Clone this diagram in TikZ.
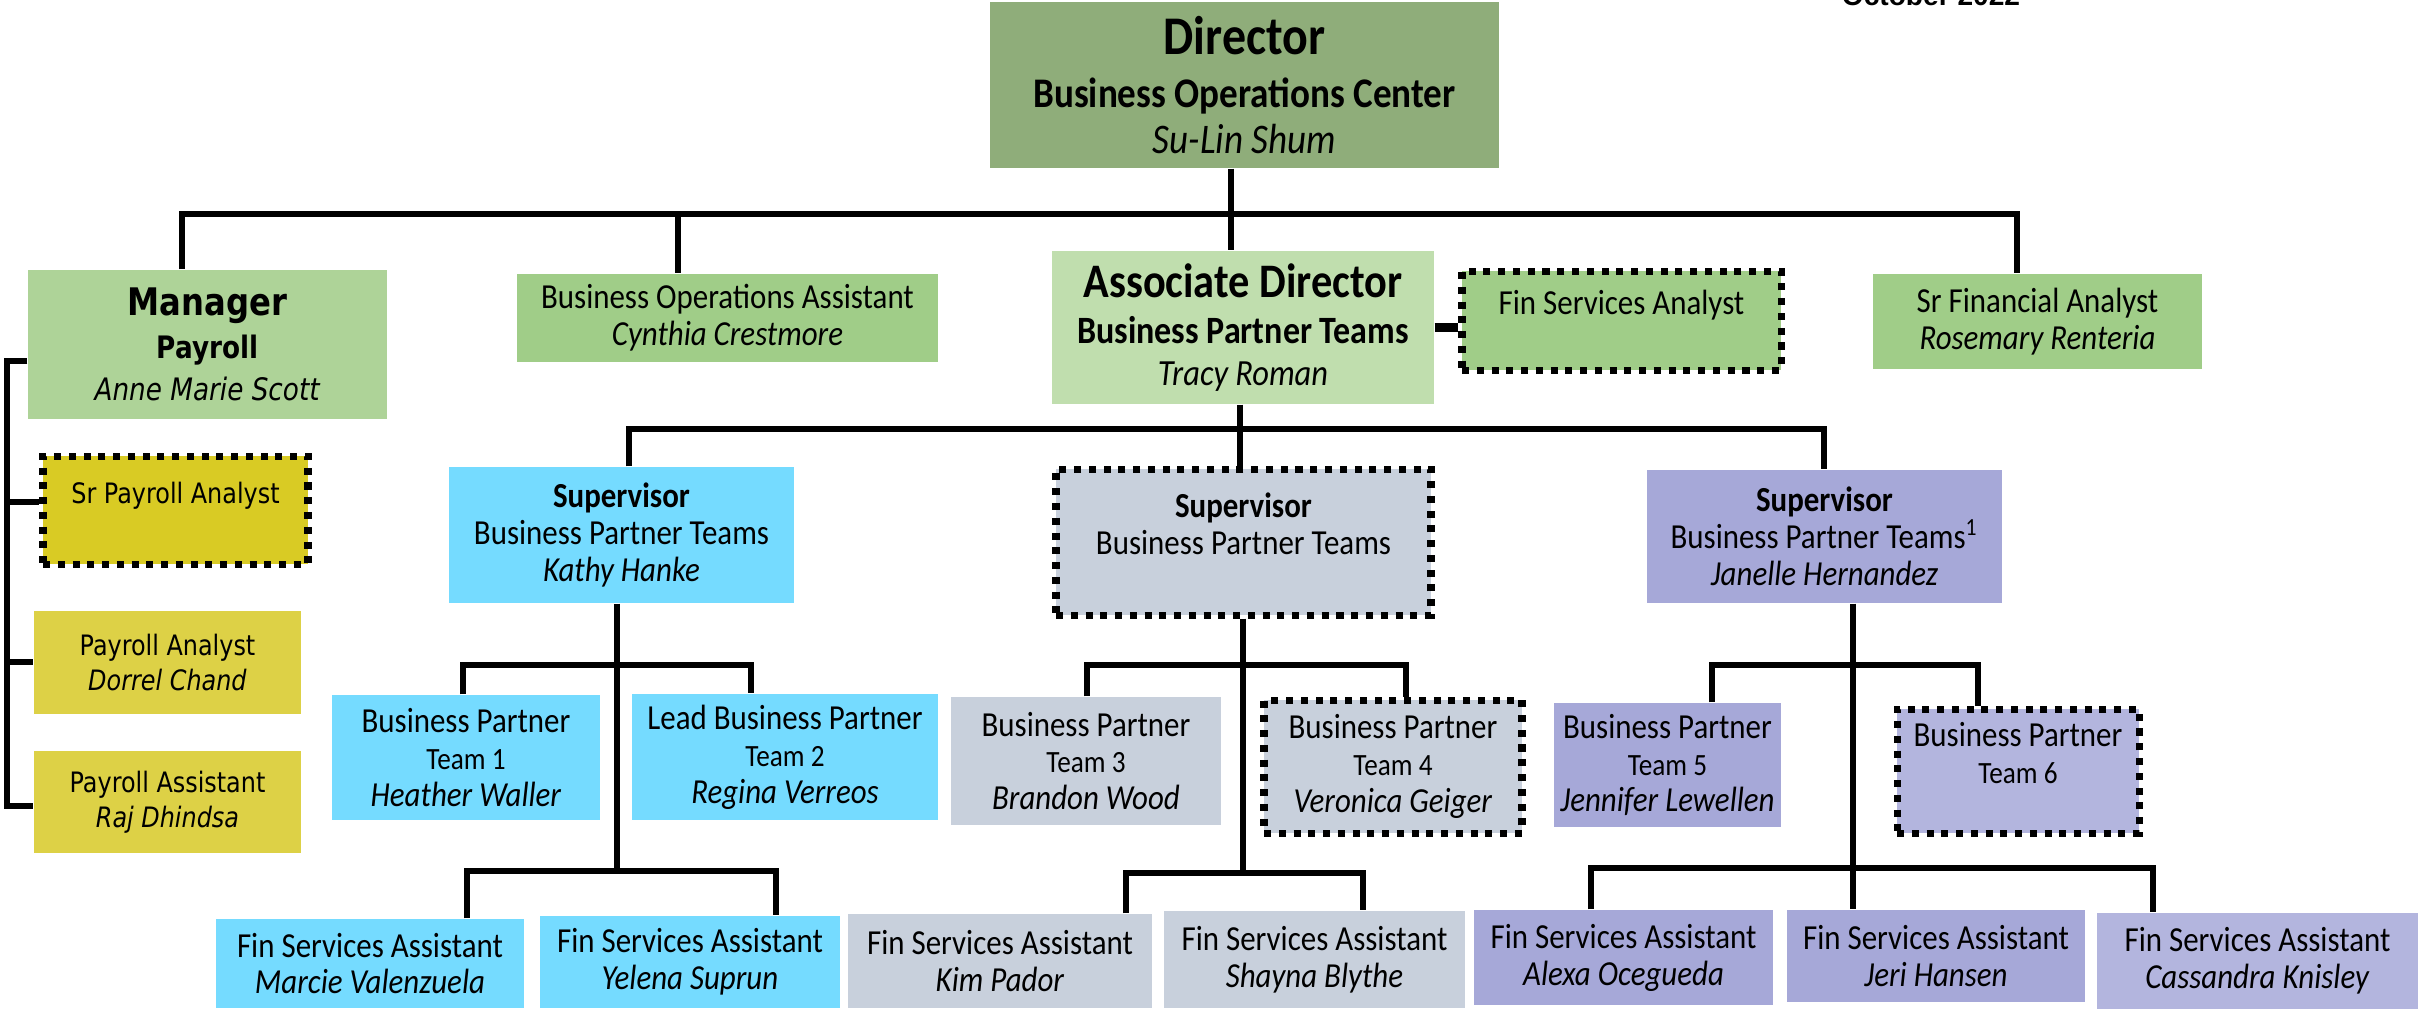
\documentclass[tikz,border=0pt]{standalone}
\usepackage{fontspec}
\setmainfont{Carlito}[FakeStretch=0.88]
\newfontfamily\payfont{DejaVu Sans}[FakeStretch=0.85]
\newfontfamily\datefont{Liberation Sans}

\definecolor{dirgreen}{RGB}{143,173,122}
\definecolor{mgrgreen}{RGB}{174,211,152}
\definecolor{midgreen}{RGB}{160,205,136}
\definecolor{palegreen}{RGB}{192,222,174}
\definecolor{payyellow}{RGB}{221,209,70}
\definecolor{payyellowdk}{RGB}{217,203,36}
\definecolor{bpcyan}{RGB}{117,219,255}
\definecolor{bpgray}{RGB}{200,208,220}
\definecolor{bplav}{RGB}{166,168,216}
\definecolor{bplavlt}{RGB}{179,181,222}

\tikzset{
  orgbox/.style={rectangle,inner sep=0pt,align=center,font=\fontsize{10}{10.5}\selectfont},
  paybox/.style={orgbox,font=\payfont\fontsize{8}{10}\selectfont,fill=payyellow},
  vacant/.style={draw=black,line width=2pt,dash pattern=on 2pt off 2.2pt},
  link/.style={line width=1.6pt}
}

\begin{document}
\begin{tikzpicture}
\useasboundingbox (0,0) rectangle (24.18,-10.09);

\node[orgbox,font=\fontsize{12}{13}\selectfont,fill=dirgreen,minimum width=5.09cm,minimum height=1.66cm] (v1) at (12.445,-0.85) {{\fontsize{15.5}{16}\selectfont\bfseries Director}\\[2pt]\textbf{Business Operations Center}\\\textit{Su-Lin Shum}};
\node[anchor=base,font=\datefont\bfseries\fontsize{8}{9}\selectfont] (v26) at (19.31,-0.05) {October 2022};

\node[orgbox,font=\payfont\fontsize{8.8}{12}\selectfont,fill=mgrgreen,minimum width=3.59cm,minimum height=1.49cm] (v2) at (2.075,-3.445) {{\fontsize{10.8}{12}\selectfont\bfseries Manager}\\\textbf{Payroll}\\\textit{Anne Marie Scott}};
\node[orgbox,fill=midgreen,minimum width=4.21cm,minimum height=0.88cm] (v3) at (7.275,-3.18) {Business Operations Assistant\\\textit{Cynthia Crestmore}};
\node[orgbox,font=\fontsize{11}{12}\selectfont,fill=palegreen,minimum width=3.82cm,minimum height=1.53cm] (v4) at (12.43,-3.275) {{\fontsize{13.7}{15}\selectfont\bfseries Associate Director}\\[1pt]\textbf{Business Partner Teams}\\{\fontsize{10.5}{12}\selectfont\itshape Tracy Roman}};
\node[orgbox,vacant,fill=midgreen,minimum width=3.19cm,minimum height=0.99cm] (v5) at (16.215,-3.205) {Fin Services Analyst\\~};
\node[orgbox,fill=midgreen,minimum width=3.29cm,minimum height=0.95cm] (v6) at (20.375,-3.215) {Sr Financial Analyst\\\textit{Rosemary Renteria}};

\node[paybox,vacant,fill=payyellowdk,minimum width=2.65cm,minimum height=1.08cm] (v7) at (1.755,-5.10) {Sr Payroll Analyst\\~};
\node[paybox,minimum width=2.67cm,minimum height=1.03cm] (v8) at (1.675,-6.625) {Payroll Analyst\\\textit{Dorrel Chand}};
\node[paybox,minimum width=2.67cm,minimum height=1.02cm] (v9) at (1.675,-8.02) {Payroll Assistant\\\textit{Raj Dhindsa}};

\node[orgbox,fill=bpcyan,minimum width=3.45cm,minimum height=1.36cm] (v10) at (6.215,-5.35) {\textbf{Supervisor}\\Business Partner Teams\\\textit{Kathy Hanke}};
\node[orgbox,vacant,fill=bpgray,minimum width=3.75cm,minimum height=1.46cm] (v11) at (12.435,-5.42) {\textbf{Supervisor}\\Business Partner Teams\\~};
\node[orgbox,fill=bplav,minimum width=3.55cm,minimum height=1.33cm] (v12) at (18.245,-5.365) {\textbf{Supervisor}\\Business Partner Teams\textsuperscript{1}\\\textit{Janelle Hernandez}};

\node[orgbox,fill=bpcyan,minimum width=2.68cm,minimum height=1.25cm] (v13) at (4.66,-7.575) {Business Partner\\{\fontsize{8.8}{10}\selectfont Team 1}\\\textit{Heather Waller}};
\node[orgbox,fill=bpcyan,minimum width=3.06cm,minimum height=1.26cm] (v14) at (7.85,-7.57) {Lead Business Partner\\{\fontsize{8.8}{10}\selectfont Team 2}\\\textit{Regina Verreos}};
\node[orgbox,fill=bpgray,minimum width=2.70cm,minimum height=1.28cm] (v15) at (10.86,-7.61) {Business Partner\\{\fontsize{8.8}{10}\selectfont Team 3}\\\textit{Brandon Wood}};
\node[orgbox,vacant,fill=bpgray,minimum width=2.58cm,minimum height=1.33cm] (v16) at (13.93,-7.665) {Business Partner\\{\fontsize{8.8}{10}\selectfont Team 4}\\\textit{Veronica Geiger}};
\node[orgbox,fill=bplav,minimum width=2.27cm,minimum height=1.24cm] (v17) at (16.675,-7.65) {Business Partner\\{\fontsize{8.8}{10}\selectfont Team 5}\\\textit{Jennifer Lewellen}};
\node[orgbox,vacant,fill=bplavlt,minimum width=2.42cm,minimum height=1.24cm] (v18) at (20.18,-7.71) {Business Partner\\{\fontsize{8.8}{10}\selectfont Team 6}\\~};

\node[orgbox,fill=bpcyan,minimum width=3.08cm,minimum height=0.89cm] (v19) at (3.70,-9.635) {Fin Services Assistant\\\textit{Marcie Valenzuela}};
\node[orgbox,fill=bpcyan,minimum width=3.00cm,minimum height=0.92cm] (v20) at (6.90,-9.62) {Fin Services Assistant\\\textit{Yelena Suprun}};
\node[orgbox,fill=bpgray,minimum width=3.04cm,minimum height=0.94cm] (v21) at (10.00,-9.61) {Fin Services Assistant\\\textit{Kim Pador}};
\node[orgbox,fill=bpgray,minimum width=3.01cm,minimum height=0.97cm] (v22) at (13.145,-9.595) {Fin Services Assistant\\\textit{Shayna Blythe}};
\node[orgbox,fill=bplav,minimum width=2.99cm,minimum height=0.95cm] (v23) at (16.235,-9.575) {Fin Services Assistant\\\textit{Alexa Ocegueda}};
\node[orgbox,fill=bplav,minimum width=2.98cm,minimum height=0.92cm] (v24) at (19.36,-9.56) {Fin Services Assistant\\\textit{Jeri Hansen}};
\node[orgbox,fill=bplavlt,minimum width=3.21cm,minimum height=0.96cm] (v25) at (22.575,-9.61) {Fin Services Assistant\\\textit{Cassandra Knisley}};

\coordinate (a1) at (1.82,-2.14);
\coordinate (a2) at (6.78,-2.14);
\coordinate (a3) at (12.31,-2.14);
\coordinate (a4) at (20.17,-2.14);
\draw[link] (a1 |- v2.north) -- (a1) -- (a4) -- (a4 |- v6.north);
\draw[link] (a2) -- (a2 |- v3.north);
\draw[link] (a3 |- v1.south) -- (a3 |- v4.north);
\draw[link,line width=2.4pt] (v4.east) -- (v4.east -| v5.west);

\coordinate (p1) at (0.07,-3.61);
\coordinate (p2) at (0.07,-5.02);
\coordinate (p3) at (0.07,-6.62);
\coordinate (p4) at (0.07,-8.06);
\draw[link] (p1 -| v2.west) -- (p1) -- (p4) -- (p4 -| v9.west);
\draw[link] (p2) -- (p2 -| v7.west);
\draw[link] (p3) -- (p3 -| v8.west);

\coordinate (b1) at (6.29,-4.29);
\coordinate (b2) at (12.40,-4.29);
\coordinate (b3) at (18.24,-4.29);
\draw[link] (b2 |- v4.south) -- (b2) -- (b2 |- v11.north);
\draw[link] (b1 |- v10.north) -- (b1) -- (b3) -- (b3 |- v12.north);

\coordinate (c1) at (4.63,-6.65);
\coordinate (c2) at (7.51,-6.65);
\coordinate (c3) at (4.67,-8.71);
\coordinate (c4) at (7.76,-8.71);
\coordinate (c5) at (6.17,-8.71);
\draw[link] (c5 |- v10.south) -- (c5);
\draw[link] (c1 |- v13.north) -- (c1) -- (c2) -- (c2 |- v14.north);
\draw[link] (c3 |- v19.north) -- (c3) -- (c4) -- (c4 |- v20.north);

\coordinate (d1) at (10.87,-6.65);
\coordinate (d2) at (14.06,-6.65);
\coordinate (d3) at (11.26,-8.73);
\coordinate (d4) at (13.63,-8.73);
\coordinate (d5) at (12.43,-8.73);
\draw[link] (d5 |- v11.south) -- (d5);
\draw[link] (d1 |- v15.north) -- (d1) -- (d2) -- (d2 |- v16.north);
\draw[link] (d3 |- v21.north) -- (d3) -- (d4) -- (d4 |- v22.north);

\coordinate (e1) at (17.12,-6.65);
\coordinate (e2) at (19.78,-6.65);
\coordinate (e3) at (15.91,-8.68);
\coordinate (e4) at (21.53,-8.68);
\coordinate (e5) at (18.53,-8.68);
\draw[link] (e5 |- v12.south) -- (e5) -- (e5 |- v24.north);
\draw[link] (e1 |- v17.north) -- (e1) -- (e2) -- (e2 |- v18.north);
\draw[link] (e3 |- v23.north) -- (e3) -- (e4) -- (e4 |- v25.north);
\end{tikzpicture}
\end{document}
